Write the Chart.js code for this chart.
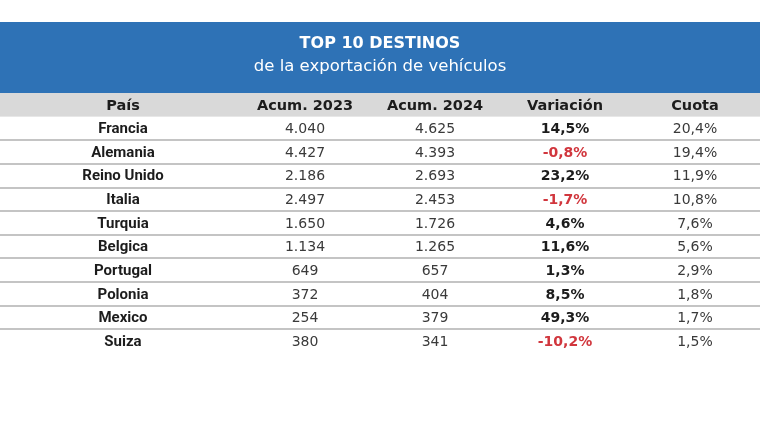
<!DOCTYPE html>
<html>
<head>
<meta charset="utf-8">
<script src="https://cdn.jsdelivr.net/npm/chart.js@4"></script>
<style>
  html, body { margin: 0; padding: 0; background: #fff; }
  #wrap { width: 760px; height: 427px; }
</style>
</head>
<body>
<div id="wrap"><canvas id="tbl"></canvas></div>
<script>
const countries = ['Francia', 'Alemania', 'Reino Unido', 'Italia', 'Turquia',
                   'Belgica', 'Portugal', 'Polonia', 'Mexico', 'Suiza'];
const columns = ['Acum. 2023', 'Acum. 2024', 'Variación', 'Cuota'];
const acum2023 = [4040, 4427, 2186, 2497, 1650, 1134, 649, 372, 254, 380];
const acum2024 = [4625, 4393, 2693, 2453, 1726, 1265, 657, 404, 379, 341];
const variacion = [14.5, -0.8, 23.2, -1.7, 4.6, 11.6, 1.3, 8.5, 49.3, -10.2];
const cuota = [20.4, 19.4, 11.9, 10.8, 7.6, 5.6, 2.9, 1.8, 1.7, 1.5];

const FONT = '"DejaVu Sans", Roboto, sans-serif';
const NAME_FONT = 'Roboto, "DejaVu Sans", sans-serif';
const BLUE = '#2e72b6';
const RED = '#d1363d';

const fmtInt = (n) => String(n).replace(/\B(?=(\d{3})+(?!\d))/g, '.');
const fmtPct = (v) => v.toFixed(1).replace('.', ',') + '%';

const tablePlugin = {
  id: 'tablePlugin',
  beforeDraw(chart) {
    const { ctx, width, chartArea } = chart;
    const y = chart.scales.y;
    ctx.save();
    // banner behind title
    ctx.fillStyle = BLUE;
    ctx.fillRect(0, 22, width, chartArea.top - 22);
    // header band
    const hTop = y.getPixelForValue(-0.5), hBot = y.getPixelForValue(0.5);
    ctx.fillStyle = '#d9d9d9';
    ctx.fillRect(0, hTop, width, hBot - hTop);
    // row separators
    ctx.strokeStyle = '#c4c4c4';
    ctx.lineWidth = 2;
    for (let i = 2; i <= countries.length; i++) {
      const py = Math.round(y.getPixelForValue(i - 0.5));
      ctx.beginPath();
      ctx.moveTo(0, py);
      ctx.lineTo(width, py);
      ctx.stroke();
    }
    ctx.restore();
  },
  afterDatasetsDraw(chart) {
    const { ctx, chartArea } = chart;
    const x = chart.scales.x, y = chart.scales.y;
    const firstX = chartArea.left / 2 + 3;
    ctx.save();
    ctx.textAlign = 'center';
    ctx.textBaseline = 'middle';
    // header row
    ctx.fillStyle = '#1c1c1c';
    ctx.font = 'bold 14.5px ' + FONT;
    ctx.fillText('País', firstX, y.getPixelForValue(0) + 1);
    columns.forEach((c, j) => ctx.fillText(c, x.getPixelForValue(j), y.getPixelForValue(0) + 1));
    // body
    countries.forEach((name, i) => {
      const py = y.getPixelForValue(i + 1) + 1;
      ctx.font = 'bold 15px ' + NAME_FONT;
      ctx.fillStyle = '#1c1c1c';
      ctx.fillText(name, firstX, py);
      ctx.font = '14px ' + FONT;
      ctx.fillStyle = '#3a3a3a';
      ctx.fillText(fmtInt(acum2023[i]), x.getPixelForValue(0), py);
      ctx.fillText(fmtInt(acum2024[i]), x.getPixelForValue(1), py);
      ctx.fillText(fmtPct(cuota[i]), x.getPixelForValue(3), py);
      ctx.font = 'bold 14px ' + FONT;
      ctx.fillStyle = variacion[i] < 0 ? RED : '#1c1c1c';
      ctx.fillText(fmtPct(variacion[i]), x.getPixelForValue(2), py);
    });
    ctx.restore();
  }
};

new Chart(document.getElementById('tbl'), {
  type: 'line',
  data: { labels: [], datasets: [] },
  options: {
    responsive: true, maintainAspectRatio: false, animation: false,
    layout: { padding: { top: 22, left: 0, right: 0, bottom: 74 } },
    scales: {
      x: { type: 'category', labels: columns, offset: true, display: false },
      y: {
        type: 'category', labels: ['País', ...countries], offset: true,
        grid: { display: false }, border: { display: false },
        ticks: { display: false },
        afterFit(scale) { scale.width = 240; },
      },
    },
    plugins: {
      legend: { display: false },
      tooltip: { enabled: false },
      title: {
        display: true, text: 'TOP 10 DESTINOS', color: '#fff',
        font: { family: FONT, size: 16, weight: 'bold' }, lineHeight: 1.2,
        padding: { top: 12, bottom: 0 },
      },
      subtitle: {
        display: true, text: 'de la exportación de vehículos', color: '#fff',
        font: { family: FONT, size: 16.5, weight: '400' }, lineHeight: 1.2,
        padding: { top: 4, bottom: 16 },
      },
    },
  },
  plugins: [tablePlugin],
});
</script>
</body>
</html>
